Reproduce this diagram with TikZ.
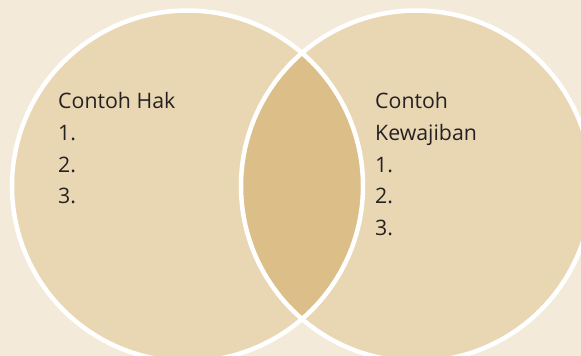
\documentclass[tikz,border=0pt]{standalone}
\usepackage{fontspec}
\setmainfont{Open Sans}
\definecolor{pagebg}{HTML}{F3EADA}
\definecolor{setfill}{HTML}{E9D7B4}
\definecolor{overlapfill}{HTML}{DBBE88}
\definecolor{inktext}{HTML}{252122}
\tikzset{
  setring/.style={draw=white, line width=4.5pt},
  listline/.style={anchor=base west, inner sep=0pt, text=inktext,
    font=\fontsize{21.3}{26}\selectfont},
}
\begin{document}
\begin{tikzpicture}[x=1pt,y=-1pt]
  % canvas
  \fill[pagebg] (0,0) rectangle (581,356);
  \useasboundingbox (0,0) rectangle (581,356);
  % the two sets
  \coordinate (cL) at (187.5,186);
  \coordinate (cR) at (416.5,186);
  \fill[setfill] (cL) circle[radius=175.5pt];
  \fill[setfill] (cR) circle[radius=175.5pt];
  % shared region
  \begin{scope}
    \clip (cL) circle[radius=175.5pt];
    \fill[overlapfill] (cR) circle[radius=175.5pt];
  \end{scope}
  % outlines
  \draw[setring] (cL) circle[radius=175.5pt];
  \draw[setring] (cR) circle[radius=175.5pt];
  % left list
  \node[listline] (hak)  at (58,108) {Contoh Hak};
  \node[listline] (hak1) at (58,140) {1.};
  \node[listline] (hak2) at (58,172) {2.};
  \node[listline] (hak3) at (58,203) {3.};
  % right list
  \node[listline] (kw)   at (375,108) {Contoh};
  \node[listline] (kwb)  at (375,140) {Kewajiban};
  \node[listline] (kw1)  at (375,172) {1.};
  \node[listline] (kw2)  at (375,203) {2.};
  \node[listline] (kw3)  at (375,235) {3.};
\end{tikzpicture}
\end{document}
